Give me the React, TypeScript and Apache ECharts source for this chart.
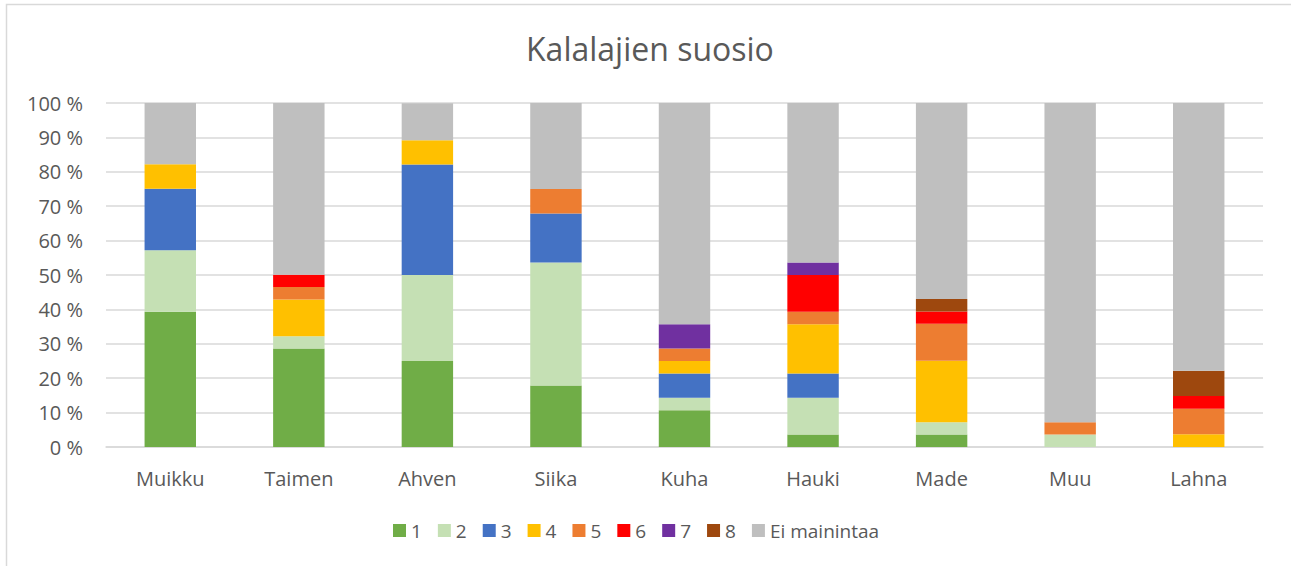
import React, { useEffect, useRef } from "react";
import * as echarts from "echarts";

const categories = ["Muikku", "Taimen", "Ahven", "Siika", "Kuha", "Hauki", "Made", "Muu", "Lahna"];
const seriesNames = ["1", "2", "3", "4", "5", "6", "7", "8", "Ei mainintaa"];
const s1 = [39.3, 28.6, 25.0, 17.9, 10.7, 3.6, 3.6, 0, 0];
const s2 = [17.9, 3.6, 25.0, 35.7, 3.6, 10.7, 3.6, 3.6, 0];
const s3 = [17.9, 0, 32.1, 14.3, 7.1, 7.1, 0, 0, 0];
const s4 = [7.1, 10.7, 7.1, 0, 3.6, 14.3, 17.9, 0, 3.7];
const s5 = [0, 3.6, 0, 7.1, 3.6, 3.6, 10.7, 3.6, 7.4];
const s6 = [0, 3.6, 0, 0, 0, 10.7, 3.6, 0, 3.7];
const s7 = [0, 0, 0, 0, 7.1, 3.6, 0, 0, 0];
const s8 = [0, 0, 0, 0, 0, 0, 3.6, 0, 7.4];
const sEi = [17.9, 50.0, 10.7, 25.0, 64.3, 46.4, 57.1, 92.9, 77.8];
const seriesValues = [s1, s2, s3, s4, s5, s6, s7, s8, sEi];
const colors = ["#70ad47", "#c5e0b4", "#4472c4", "#ffc000", "#ed7d31", "#ff0000", "#7030a0", "#9e480e", "#bfbfbf"];

const FONT = "'Open Sans', sans-serif";
const TEXT = "#595959";

export default function App() {
  const ref = useRef<HTMLDivElement>(null);
  useEffect(() => {
    if (!ref.current) return;
    const chart = echarts.init(ref.current, undefined, { renderer: "svg" });
    chart.setOption({
      animation: false,
      backgroundColor: "#ffffff",
      color: colors,
      textStyle: { fontFamily: FONT, color: TEXT },
      title: {
        text: "Kalalajien suosio",
        left: 521,
        top: 27,
        textStyle: { fontFamily: FONT, fontSize: 32, fontWeight: "normal", color: TEXT },
      },
      graphic: [
        {
          type: "rect",
          shape: { x: 6.5, y: 4.5, width: 1400, height: 700 },
          style: { fill: "none", stroke: "#d9d9d9", lineWidth: 1.5 },
          silent: true,
          z: -1,
        },
      ],
      legend: {
        left: 393,
        top: 521,
        padding: 0,
        itemWidth: 13,
        itemHeight: 13,
        itemGap: 16,
        icon: "rect",
        textStyle: { fontFamily: FONT, fontSize: 19, color: TEXT },
        data: seriesNames,
      },
      grid: { left: 106, right: 28, top: 103, bottom: 119, containLabel: false },
      xAxis: {
        type: "category",
        data: categories,
        axisLine: { show: true, lineStyle: { color: "#d9d9d9", width: 1.5 } },
        axisTick: { show: false },
        axisLabel: { fontFamily: FONT, fontSize: 20, color: TEXT, margin: 21 },
      },
      yAxis: {
        type: "value",
        min: 0,
        max: 100,
        interval: 10,
        axisLine: { show: false },
        axisTick: { show: false },
        splitLine: { lineStyle: { color: "#d9d9d9", width: 1.5 } },
        axisLabel: { fontFamily: FONT, fontSize: 20, color: TEXT, margin: 23, formatter: "{value} %" },
      },
      series: seriesNames.map((name, i) => ({
        name,
        type: "bar",
        stack: "total",
        barWidth: "40%",
        data: seriesValues[i],
        itemStyle: { color: colors[i] },
      })),
    });
    return () => chart.dispose();
  }, []);
  return (
    <div
      ref={ref}
      style={{ position: "fixed", left: 0, top: 0, width: 1291, height: 566, background: "#fff" }}
    />
  );
}
